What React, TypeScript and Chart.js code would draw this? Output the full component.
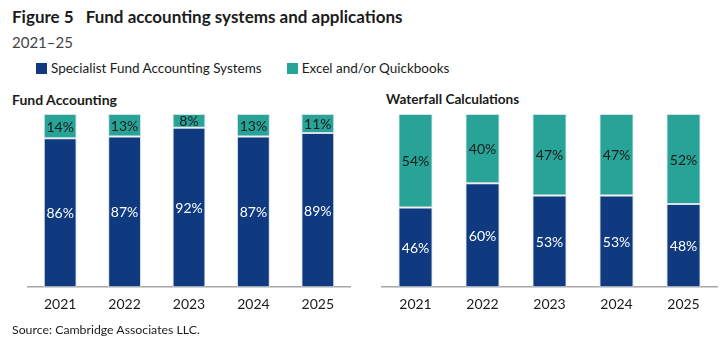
import React, { useEffect, useRef } from "react";
import { Chart, registerables } from "chart.js";

Chart.register(...registerables);

const years = ["2021", "2022", "2023", "2024", "2025"];
const fundSpecialist = [86, 87, 92, 87, 89];
const fundExcel = [14, 13, 8, 13, 11];
const waterSpecialist = [46, 60, 53, 53, 48];
const waterExcel = [54, 40, 47, 47, 52];
const seriesNames = ["Specialist Fund Accounting Systems", "Excel and/or Quickbooks"];

const NAVY = "#0f3a7f";
const TEAL = "#27a398";
const FONT = "Lato, 'Source Sans Pro', 'Noto Sans', sans-serif";

const labelPlugin = {
  id: "segLabels",
  afterDatasetsDraw(chart: any) {
    const ctx = chart.ctx;
    ctx.save();
    ctx.font = `14px ${FONT}`;
    ctx.textAlign = "center";
    ctx.textBaseline = "middle";
    chart.data.datasets.forEach((ds: any, di: number) => {
      const meta = chart.getDatasetMeta(di);
      meta.data.forEach((bar: any, i: number) => {
        const v = ds.data[i];
        const top = Math.min(bar.y, bar.base);
        const bottom = Math.max(bar.y, bar.base);
        ctx.fillStyle = di === 0 ? "#ffffff" : "#1b1b1b";
        ctx.fillText(`${v}%`, bar.x, (top + bottom) / 2 + 1);
      });
    });
    ctx.restore();
  },
};

function StackChart({ a, b, padLeft, padRight }: { a: number[]; b: number[]; padLeft: number; padRight: number }) {
  const ref = useRef<HTMLCanvasElement>(null);
  useEffect(() => {
    const chart = new Chart(ref.current!, {
      type: "bar",
      data: {
        labels: years,
        datasets: [
          { label: seriesNames[0], data: a, backgroundColor: NAVY, borderColor: "#d9dfe8", borderWidth: 1, borderSkipped: false },
          { label: seriesNames[1], data: b, backgroundColor: TEAL, borderColor: "#d9dfe8", borderWidth: 1, borderSkipped: false },
        ],
      },
      options: {
        animation: false,
        responsive: false,
        maintainAspectRatio: false,
        layout: { padding: { left: padLeft, right: padRight, top: 10, bottom: 4 } },
        datasets: { bar: { categoryPercentage: 1, barPercentage: 0.51 } },
        plugins: { legend: { display: false }, tooltip: { enabled: false } },
        scales: {
          x: {
            stacked: true,
            grid: { display: false, drawTicks: false },
            border: { display: true, color: "#a6a6a6", width: 1.5 },
            ticks: { color: "#1b1b1b", font: { family: FONT, size: 14 }, padding: 9 },
          },
          y: { stacked: true, display: false, min: 0, max: 100 },
        },
      },
      plugins: [labelPlugin],
    });
    return () => chart.destroy();
  }, []);
  return <canvas ref={ref} width={360} height={222} style={{ width: 360, height: 222, display: "block" }} />;
}

export default function App() {
  useEffect(() => {
    document.body.style.margin = "0";
  }, []);
  const abs = (left: number, top: number): React.CSSProperties => ({ position: "absolute", left, top, whiteSpace: "nowrap" });
  return (
    <div style={{ position: "relative", width: 721, height: 349, background: "#fff", fontFamily: FONT, color: "#1b1b1b", overflow: "hidden" }}>
      <div style={{ ...abs(12, 6), fontSize: 17, fontWeight: 700 }}>
        Figure 5<span style={{ display: "inline-block", width: 12 }} />Fund accounting systems and applications
      </div>
      <div style={{ ...abs(12, 33), fontSize: 15, color: "#444" }}>2021–25</div>
      <div style={{ ...abs(36, 60), fontSize: 13.5, display: "flex", alignItems: "center" }}>
        <span style={{ width: 11, height: 11, background: NAVY, display: "inline-block", marginRight: 4 }} />
        <span>{seriesNames[0]}</span>
        <span style={{ width: 11, height: 11, background: TEAL, display: "inline-block", marginLeft: 25, marginRight: 4 }} />
        <span>{seriesNames[1]}</span>
      </div>
      <div style={{ ...abs(12, 91), fontSize: 14, fontWeight: 700 }}>Fund Accounting</div>
      <div style={{ ...abs(386, 91), fontSize: 13.6, fontWeight: 700 }}>Waterfall Calculations</div>
      <div style={{ position: "absolute", left: 0, top: 104 }}>
        <StackChart a={fundSpecialist} b={fundExcel} padLeft={28} padRight={10} />
      </div>
      <div style={{ position: "absolute", left: 360, top: 104 }}>
        <StackChart a={waterSpecialist} b={waterExcel} padLeft={22} padRight={3} />
      </div>
      <div style={{ ...abs(12, 322), fontSize: 12.3 }}>Source: Cambridge Associates LLC.</div>
    </div>
  );
}
